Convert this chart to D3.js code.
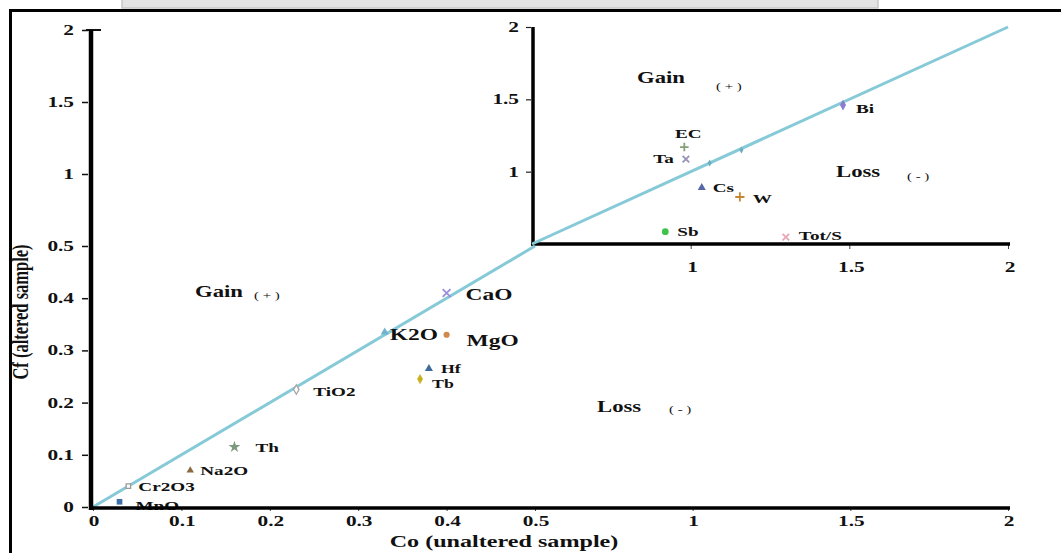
<!DOCTYPE html>
<html>
<head>
<meta charset="utf-8">
<script src="https://cdn.jsdelivr.net/npm/d3@7"></script>
<style>
  html, body { margin: 0; padding: 0; background: #fff; }
  svg { display: block; }
  text { font-family: "Liberation Serif", "Times New Roman", serif; font-weight: bold; fill: #111; }
</style>
</head>
<body>
<svg id="chart" width="1061" height="553"></svg>
<script>
// ---- data: main isocon plot (Co vs Cf, low concentrations) ----
const mainNames = ["MnO", "Cr2O3", "Na2O", "Th", "TiO2", "K2O", "MgO", "CaO", "Hf", "Tb"];
const mainCo    = [0.03, 0.04, 0.11, 0.16, 0.23, 0.33, 0.40, 0.40, 0.38, 0.37];
const mainCf    = [0.01, 0.04, 0.07, 0.115, 0.225, 0.335, 0.33, 0.41, 0.265, 0.245];

// ---- data: inset plot (higher concentrations) ----
const insetNames = ["Bi", "EC", "Ta", "Cs", "W", "Sb", "Tot/S", "", ""];
const insetCo    = [1.48, 0.98, 0.985, 1.035, 1.155, 0.92, 1.30, 1.06, 1.16];
const insetCf    = [1.46, 1.17, 1.087, 0.89, 0.825, 0.585, 0.548, 1.06, 1.15];

// ---- tick values ----
const mainXTicks  = [0, 0.1, 0.2, 0.3, 0.4, 0.5, 1, 1.5, 2];
const mainYTicks  = [0, 0.1, 0.2, 0.3, 0.4, 0.5, 1, 1.5, 2];
const insetXTicks = [1, 1.5, 2];
const insetYTicks = [1, 1.5, 2];
const isocon      = [0, 0.5, 2];

// ---- marker styling per element ----
const SYM_X = d3.symbolTimes || d3.symbolCross;
const SYM_P = d3.symbolPlus || d3.symbolCross;
const markerStyle = {
  "MnO":   { s: d3.symbolSquare,   c: "#3f6fa6", size: 32 },
  "Cr2O3": { s: d3.symbolSquare,   c: "#9a9a9a", size: 20, hollow: true },
  "Na2O":  { s: d3.symbolTriangle, c: "#8a6a3e", size: 24 },
  "Th":    { s: d3.symbolStar,     c: "#7d9a80", size: 44 },
  "TiO2":  { s: d3.symbolDiamond,  c: "#a6a6a6", size: 26, hollow: true },
  "K2O":   { s: d3.symbolTriangle, c: "#6fb3cf", size: 28 },
  "MgO":   { s: d3.symbolCircle,   c: "#cf8a4c", size: 30 },
  "CaO":   { s: SYM_X,             c: "#9c8ed8", size: 42, stroke: true },
  "Hf":    { s: d3.symbolTriangle, c: "#3d6c9c", size: 28 },
  "Tb":    { s: d3.symbolDiamond,  c: "#c9b21e", size: 30 },
  "Bi":    { s: d3.symbolDiamond,  c: "#8a7cd0", size: 32 },
  "EC":    { s: SYM_P,             c: "#86a076", size: 26, stroke: true },
  "Ta":    { s: SYM_X,             c: "#9a92b6", size: 30, stroke: true },
  "Cs":    { s: d3.symbolTriangle, c: "#5668a8", size: 28 },
  "W":     { s: SYM_P,             c: "#c8862e", size: 30, stroke: true },
  "Sb":    { s: d3.symbolCircle,   c: "#3fc24a", size: 36 },
  "Tot/S": { s: SYM_X,             c: "#eaa5b6", size: 30, stroke: true },
  "":      { s: d3.symbolDiamond,  c: "#6aaec0", size: 14 }
};
// label placement relative to marker (dx, dy, anchor, font size)
const labelPlace = {
  "MnO":   [16, 8, "start", 13.5],
  "Cr2O3": [10, 5, "start", 13.5],
  "Na2O":  [10, 5, "start", 13.5],
  "Th":    [21, 5, "start", 13.5],
  "TiO2":  [17, 6, "start", 13.5],
  "K2O":   [5, 8, "start", 16.5],
  "MgO":   [20, 11, "start", 16.5],
  "CaO":   [19, 7, "start", 16.5],
  "Hf":    [12, 4, "start", 12.5],
  "Tb":    [12, 9, "start", 12.5],
  "Bi":    [13, 8, "start", 13.5],
  "EC":    [4, -9, "middle", 13.5],
  "Ta":    [-12, 4, "end", 13.5],
  "Cs":    [11, 4, "start", 13.5],
  "W":     [13, 6, "start", 13.5],
  "Sb":    [12, 4, "start", 13.5],
  "Tot/S": [13, 3, "start", 13.5]
};

const SX = 1.42; // horizontal text stretch of the figure
const svg = d3.select("#chart");

function stext(g, x, y, str, size, anchor, weight) {
  return g.append("text")
    .attr("transform", `translate(${x},${y}) scale(${SX},1)`)
    .attr("text-anchor", anchor || "start")
    .style("font-size", size + "px")
    .style("font-weight", weight || "bold")
    .text(str);
}

// ---- frame ----
svg.append("rect").attr("x", 122).attr("y", -2).attr("width", 756).attr("height", 10)
  .attr("fill", "#e3e3e3").attr("stroke", "#c6c6c6").attr("stroke-width", 1.5);
svg.append("line").attr("x1", 9).attr("x2", 1061).attr("y1", 10.5).attr("y2", 10.5)
  .attr("stroke", "#000").attr("stroke-width", 3);
svg.append("line").attr("x1", 10.5).attr("x2", 10.5).attr("y1", 9).attr("y2", 553)
  .attr("stroke", "#000").attr("stroke-width", 3);

// ---- scales ----
const xMain = d3.scaleLinear().domain([0, 0.5, 2]).range([93, 535, 1008]);
const yMain = d3.scaleLinear().domain([0, 0.5, 2]).range([507, 246, 30]);
const xIn = d3.scaleLinear().domain([0.5, 2]).range([532, 1008]);
const yIn = d3.scaleLinear().domain([0.5, 2]).range([244, 27]);

const fmt = d => String(d);

// ---- main axes ----
const gm = svg.append("g");
const yAxisMain = d3.axisLeft(yMain).tickValues(mainYTicks).tickSize(6).tickFormat("");
gm.append("g").attr("transform", "translate(88,0)").call(yAxisMain)
  .call(g => g.select(".domain").remove())
  .call(g => g.selectAll(".tick line").attr("stroke", "#111").attr("stroke-width", 1.5));
mainYTicks.forEach(v => stext(gm, 74, yMain(v) + 5, fmt(v), 15, "end"));
gm.append("line").attr("x1", 86).attr("x2", 101).attr("y1", yMain(2)).attr("y2", yMain(2))
  .attr("stroke", "#111").attr("stroke-width", 2);
gm.append("line").attr("x1", 91).attr("x2", 91).attr("y1", yMain(2)).attr("y2", 510)
  .attr("stroke", "#000").attr("stroke-width", 4.5);

const xAxisMain = d3.axisBottom(xMain).tickValues(mainXTicks).tickSize(3).tickFormat("");
gm.append("g").attr("transform", "translate(0,508)").call(xAxisMain)
  .call(g => g.select(".domain").remove())
  .call(g => g.selectAll(".tick line").attr("stroke", "#444").attr("stroke-width", 1));
mainXTicks.forEach(v => stext(gm, xMain(v) + 1, 526, fmt(v), 15, "middle"));
gm.append("line").attr("x1", 89).attr("x2", 1010).attr("y1", 508).attr("y2", 508)
  .attr("stroke", "#000").attr("stroke-width", 3.5);

// axis titles
stext(gm, 504, 547, "Co (unaltered sample)", 17, "middle");
gm.append("text")
  .attr("transform", `translate(28,312) rotate(-90) scale(1,${SX})`)
  .attr("text-anchor", "middle").style("font-size", "16.5px")
  .text("Cf (altered sample)");

// ---- inset axes ----
const gi = svg.append("g");
const yAxisIn = d3.axisLeft(yIn).tickValues(insetYTicks).tickSize(5).tickFormat("");
gi.append("g").attr("transform", "translate(531,0)").call(yAxisIn)
  .call(g => g.select(".domain").remove())
  .call(g => g.selectAll(".tick line").attr("stroke", "#222").attr("stroke-width", 1.2));
insetYTicks.forEach(v => stext(gi, 519, yIn(v) + 5, fmt(v), 15, "end"));
gi.append("line").attr("x1", 533).attr("x2", 533).attr("y1", yIn(2)).attr("y2", 245.5)
  .attr("stroke", "#000").attr("stroke-width", 3.5);

const xAxisIn = d3.axisBottom(xIn).tickValues(insetXTicks).tickSize(4).tickFormat("");
gi.append("g").attr("transform", "translate(0,245)").call(xAxisIn)
  .call(g => g.select(".domain").remove())
  .call(g => g.selectAll(".tick line").attr("stroke", "#444").attr("stroke-width", 1));
insetXTicks.forEach(v => stext(gi, xIn(v) + 2, 272, fmt(v), 15, "middle"));
gi.append("line").attr("x1", 531).attr("x2", 1010).attr("y1", 244).attr("y2", 244)
  .attr("stroke", "#000").attr("stroke-width", 3.5);

// ---- isocon (Co = Cf) line ----
const lineColor = "#86cad8";
const mainLine = d3.line().x(d => xMain(d)).y(d => yMain(d));
const inLine = d3.line().x(d => xIn(d)).y(d => yIn(d));
svg.append("path").attr("d", mainLine(isocon.filter(v => v <= 0.5)))
  .attr("fill", "none").attr("stroke", lineColor).attr("stroke-width", 3);
svg.append("path").attr("d", inLine(isocon.filter(v => v >= 0.5)))
  .attr("fill", "none").attr("stroke", lineColor).attr("stroke-width", 3);

// ---- markers and labels ----
function drawPoints(g, names, xs, ys, xs_, ys_) {
  names.forEach((name, i) => {
    const st = markerStyle[name];
    const px = xs_(xs[i]), py = ys_(ys[i]);
    const path = g.append("path")
      .attr("transform", `translate(${px},${py})`)
      .attr("d", d3.symbol().type(st.s).size(st.size)());
    if (st.stroke) {
      path.attr("fill", "none").attr("stroke", st.c).attr("stroke-width", 1.8);
    } else if (st.hollow) {
      path.attr("fill", "#fff").attr("stroke", st.c).attr("stroke-width", 1.3);
    } else {
      path.attr("fill", st.c);
    }
    if (name && labelPlace[name]) {
      const [dx, dy, anchor, size] = labelPlace[name];
      stext(g, px + dx, py + dy, name, size, anchor);
    }
  });
}
const gp = svg.append("g");
drawPoints(gp, mainNames, mainCo, mainCf, xMain, yMain);
drawPoints(gp, insetNames, insetCo, insetCf, xIn, yIn);
// keep the main x axis line above the MnO label, as printed
gm.raise();

// ---- field annotations ----
const ga = svg.append("g");
stext(ga, 195, 297, "Gain", 16, "start");
stext(ga, 254, 299, "( + )", 10.5, "start", "normal");
stext(ga, 597, 412, "Loss", 16, "start");
stext(ga, 669, 413, "( - )", 10.5, "start", "normal");
stext(ga, 637, 83, "Gain", 16, "start");
stext(ga, 716, 90, "( + )", 10.5, "start", "normal");
stext(ga, 836, 177, "Loss", 16, "start");
stext(ga, 907, 180, "( - )", 10.5, "start", "normal");
</script>
</body>
</html>
